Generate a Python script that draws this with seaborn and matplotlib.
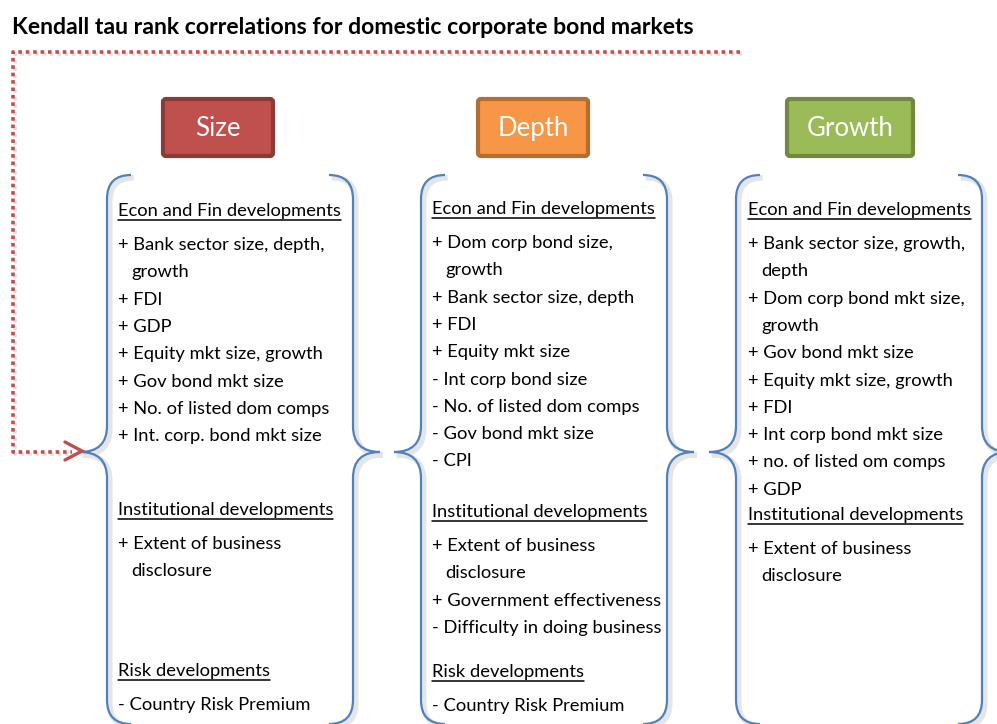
import matplotlib
matplotlib.use("Agg")
import matplotlib.pyplot as plt
import seaborn as sns
from matplotlib.path import Path
from matplotlib.patches import PathPatch, FancyBboxPatch
import matplotlib.patheffects as pe

sns.set_theme(style="white")
plt.rcParams['font.family'] = ['Lato', 'DejaVu Sans']

title = "Kendall tau rank correlations for domestic corporate bond markets"
categories = ["Size", "Depth", "Growth"]
box_fill = ["#C0504D", "#F79646", "#9BBB59"]
box_edge = ["#8C3A38", "#B66D31", "#71893F"]

size_econ = ["+ Bank sector size, depth,", "growth", "+ FDI", "+ GDP",
             "+ Equity mkt size, growth", "+ Gov bond mkt size",
             "+ No. of listed dom comps", "+ Int. corp. bond mkt size"]
size_inst = ["+ Extent of business", "disclosure"]
size_risk = ["- Country Risk Premium"]

depth_econ = ["+ Dom corp bond size,", "growth", "+ Bank sector size, depth",
              "+ FDI", "+ Equity mkt size", "- Int corp bond size",
              "- No. of listed dom comps", "- Gov bond mkt size", "- CPI"]
depth_inst = ["+ Extent of business", "disclosure",
              "+ Government effectiveness", "- Difficulty in doing business"]
depth_risk = ["- Country Risk Premium"]

growth_econ = ["+ Bank sector size, growth,", "depth",
               "+ Dom corp bond mkt size,", "growth", "+ Gov bond mkt size",
               "+ Equity mkt size, growth", "+ FDI", "+ Int corp bond mkt size",
               "+ no. of listed om comps", "+ GDP"]
growth_inst = ["+ Extent of business", "disclosure"]

headers = ["Econ and Fin developments", "Institutional developments", "Risk developments"]
panels = [
    [(headers[0], size_econ, 216), (headers[1], size_inst, 515), (headers[2], size_risk, 676)],
    [(headers[0], depth_econ, 214), (headers[1], depth_inst, 517), (headers[2], depth_risk, 677)],
    [(headers[0], growth_econ, 215), (headers[1], growth_inst, 520)],
]

# layout (pixels)
W, H = 997, 724
panel_left = [107, 421, 736]
panel_right = [353, 667, 982]
text_x = [118, 432, 748]
box_x = [(163, 273), (478, 588), (787, 913)]
box_y = (99, 156)
line_step = 27.3
blue = "#4F81BD"
red = "#C0504D"

fig = plt.figure(figsize=(W / 100, H / 100), dpi=100)
ax = fig.add_axes([0, 0, 1, 1])
ax.set_xlim(0, W)
ax.set_ylim(H, 0)
ax.axis("off")

ax.text(12, 34, title, fontsize=16.6, fontweight="bold", color="black",
        va="baseline", ha="left")

# dotted connector
shadow = [pe.SimpleLineShadow(offset=(1.5, -1.5), shadow_color="gray", alpha=0.25), pe.Normal()]
ax.plot([740, 13, 13, 72], [52, 52, 452, 452], color=red, lw=2.6,
        linestyle=(0, (1, 1.05)), solid_capstyle="butt", dash_capstyle="butt",
        path_effects=shadow)
ax.plot([65, 82, 65], [442, 451, 460], color=red, lw=2.4, solid_joinstyle="miter")

# category boxes
for (x0, x1), lab, fc, ec in zip(box_x, categories, box_fill, box_edge):
    p = FancyBboxPatch((x0, box_y[0]), x1 - x0, box_y[1] - box_y[0],
                       boxstyle="round,pad=0,rounding_size=3",
                       facecolor=fc, edgecolor=ec, lw=3)
    ax.add_patch(p)
    ax.text((x0 + x1) / 2, (box_y[0] + box_y[1]) / 2 + 1, lab, color="white",
            fontsize=18.5, ha="center", va="center")


def brace(x, d):
    # d = +1 for a left brace, -1 for a right brace
    verts = [(x + 24 * d, 175), (x, 175), (x, 199), (x, 426), (x, 452),
             (x - 27 * d, 452), (x, 452), (x, 478), (x, 700), (x, 724),
             (x + 24 * d, 724)]
    codes = [Path.MOVETO, Path.CURVE3, Path.CURVE3, Path.LINETO, Path.CURVE3,
             Path.CURVE3, Path.CURVE3, Path.CURVE3, Path.LINETO, Path.CURVE3,
             Path.CURVE3]
    pp = PathPatch(Path(verts, codes), fill=False, edgecolor=blue, lw=1.6,
                   path_effects=[pe.SimpleLineShadow(offset=(2, -2), shadow_color="gray",
                                                     alpha=0.2, linewidth=4), pe.Normal()])
    ax.add_patch(pp)


for xl, xr in zip(panel_left, panel_right):
    brace(xl, 1)
    brace(xr, -1)

underlines = []
for tx, sections in zip(text_x, panels):
    for head, items, yb in sections:
        t = ax.text(tx, yb, head, fontsize=13.2, va="baseline", ha="left", color="black")
        underlines.append((t, yb))
        y = yb + 34
        for it in items:
            indent = 0 if it[0] in "+-" else 13
            ax.text(tx + indent, y, it, fontsize=13.2, va="baseline", ha="left", color="black")
            y += line_step

fig.canvas.draw()
inv = ax.transData.inverted()
r = fig.canvas.get_renderer()
for t, yb in underlines:
    bb = t.get_window_extent(r)
    xa = inv.transform((bb.x0, bb.y0))[0]
    xb = inv.transform((bb.x1, bb.y0))[0]
    ax.plot([xa, xb], [yb + 3.5, yb + 3.5], color="black", lw=1.1)

fig.savefig("out.png", dpi=100)
